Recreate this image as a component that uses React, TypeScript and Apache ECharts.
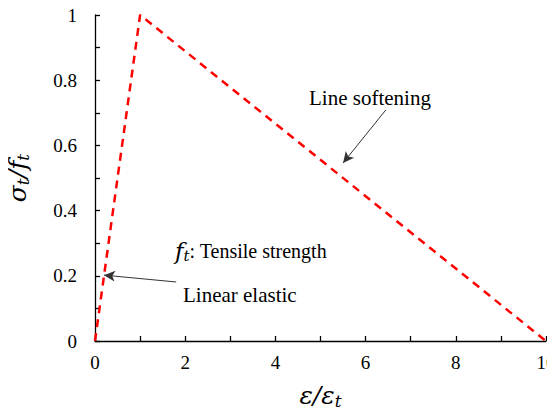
import React, { useEffect, useRef } from "react";
import * as echarts from "echarts";

const strainRatio = [0, 1, 10];
const stressRatio = [0, 1, 0];
const xTicks = [0, 2, 4, 6, 8, 10];
const yTicks = [0, 0.2, 0.4, 0.6, 0.8, 1];
const softeningArrow = [[6.45, 0.709], [5.5, 0.546]];
const elasticArrow = [[1.8, 0.181], [0.2, 0.202]];

const serif = "Liberation Serif";
const mathFont = "DejaVu Serif";

export default function App() {
  const ref = useRef<HTMLDivElement>(null);
  useEffect(() => {
    const chart = echarts.init(ref.current!, null, { renderer: "svg" });
    const sub = { fontFamily: mathFont, fontStyle: "italic", fontSize: 17, padding: [11, 0, 0, 0], color: "#000" };
    const main = { fontFamily: mathFont, fontStyle: "italic", fontSize: 25, color: "#000" };
    const axisCommon = {
      axisLine: { show: true, lineStyle: { color: "#000", width: 1.3 } },
      axisTick: { show: true, inside: true, length: 5, lineStyle: { color: "#000", width: 1.3 } },
      minorTick: { show: true, splitNumber: 2, length: 5, lineStyle: { color: "#000", width: 1.3 } },
      splitLine: { show: false },
      axisLabel: { fontFamily: serif, fontSize: 19, color: "#000" },
    };
    chart.setOption({
      animation: false,
      backgroundColor: "#fff",
      grid: { left: 95, right: 9, top: 15, bottom: 71, outerBoundsMode: "none", containLabel: false },
      xAxis: {
        type: "value",
        min: xTicks[0],
        max: xTicks[xTicks.length - 1],
        interval: 2,
        ...axisCommon,
        axisLabel: { ...axisCommon.axisLabel, margin: 12 },
        name: "{i|ε/ε}{s|t}",
        nameLocation: "middle",
        nameGap: 40,
        nameTextStyle: { rich: { i: main, s: sub } },
      },
      yAxis: {
        type: "value",
        min: yTicks[0],
        max: yTicks[yTicks.length - 1],
        interval: 0.2,
        ...axisCommon,
        axisLabel: { ...axisCommon.axisLabel, margin: 18, formatter: (v: number) => String(+v.toFixed(1)) },
        name: "{i|σ}{s|t}{i|/f}{s|t}",
        nameLocation: "middle",
        nameGap: 64,
        nameTextStyle: { rich: { i: main, s: sub } },
      },
      series: [
        {
          type: "line",
          data: strainRatio.map((x, i) => [x, stressRatio[i]]),
          symbol: "none",
          lineStyle: { color: "#ff0000", width: 2.5, type: [8, 6] },
          markLine: {
            silent: true,
            symbol: ["none", "arrow"],
            symbolSize: [8, 11],
            label: { show: false },
            lineStyle: { color: "#333", width: 1, type: "solid" },
            data: [
              [{ coord: softeningArrow[0] }, { coord: softeningArrow[1] }],
              [{ coord: elasticArrow[0] }, { coord: elasticArrow[1] }],
            ],
          },
        },
      ],
      graphic: [
        { type: "text", left: 309, top: 87, style: { text: "Line softening", fontFamily: serif, fontSize: 21, fill: "#000" } },
        {
          type: "text",
          left: 175,
          top: 239,
          style: {
            text: "{i|f}{s|t}{n|: Tensile strength}",
            rich: {
              i: { ...main, fontSize: 23 },
              s: { ...sub, fontSize: 15 },
              n: { fontFamily: serif, fontSize: 20, color: "#000" },
            },
          },
        },
        { type: "text", left: 183, top: 284, style: { text: "Linear elastic", fontFamily: serif, fontSize: 21, fill: "#000" } },
      ],
    });
    return () => chart.dispose();
  }, []);
  return <div ref={ref} style={{ width: 555, height: 412, margin: "-8px 0 0 -8px" }} />;
}
